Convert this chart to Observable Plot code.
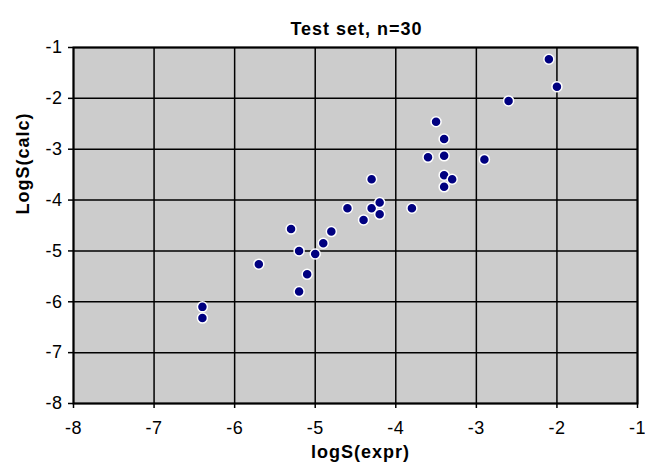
<!DOCTYPE html>
<html>
<head>
<meta charset="utf-8">
<script src="https://cdn.jsdelivr.net/npm/d3@7"></script>
<script src="https://cdn.jsdelivr.net/npm/@observablehq/plot@0.6"></script>
<style>
  html, body { margin: 0; padding: 0; background: #fff; }
  #chart svg { display: block; font-family: "Liberation Sans", Arial, sans-serif !important; }
  #chart svg g[aria-label="x-axis tick label"] text,
  #chart svg g[aria-label="y-axis tick label"] text { font-size: 18px !important; letter-spacing: 0.5px; }
  #chart svg g[aria-label="text"] text { font-size: 18px !important; letter-spacing: 1px; }
</style>
</head>
<body>
<div id="chart"></div>
<script>
const title = "Test set, n=30";
const xLabel = "logS(expr)";
const yLabel = "LogS(calc)";
const xTicks = [-8, -7, -6, -5, -4, -3, -2, -1];
const yTicks = [-8, -7, -6, -5, -4, -3, -2, -1];

const logSExpr = [-2.1, -2.0, -2.6, -3.5, -3.4, -3.6, -3.4, -2.9, -4.3, -3.4, -3.3, -3.4,
                  -4.6, -4.3, -4.2, -4.2, -4.4, -3.8, -5.3, -4.8, -4.9, -5.2, -5.0, -5.7,
                  -5.1, -5.2, -6.4, -6.4];
const logSCalc = [-1.23, -1.77, -2.05, -2.46, -2.80, -3.16, -3.13, -3.20, -3.59, -3.51, -3.59, -3.74,
                  -4.16, -4.16, -4.05, -4.28, -4.39, -4.16, -4.57, -4.62, -4.85, -5.00, -5.06, -5.26,
                  -5.46, -5.80, -6.10, -6.32];

const data = logSExpr.map((x, i) => ({x, y: logSCalc[i]}));

const W = 645, H = 468;
const mL = 73, mR = 8, mT = 47, mB = 65;
const fmt = d => d < 0 ? "-" + Math.abs(d) : String(d);

const plot = Plot.plot({
  width: W,
  height: H,
  marginLeft: mL,
  marginRight: mR,
  marginTop: mT,
  marginBottom: mB,
  style: {fontFamily: "'Liberation Sans', Arial, sans-serif", fontSize: "18px", color: "#000", background: "#fff"},
  x: {domain: [-8, -1]},
  y: {domain: [-8, -1]},
  marks: [
    Plot.frame({fill: "#cccccc"}),
    Plot.gridX(xTicks, {stroke: "#000", strokeOpacity: 1, strokeWidth: 1.5}),
    Plot.gridY(yTicks, {stroke: "#000", strokeOpacity: 1, strokeWidth: 1.5}),
    Plot.frame({stroke: "#000", strokeWidth: 2}),
    Plot.axisX(xTicks, {tickSize: 5, tickPadding: 13, fontSize: 18, tickFormat: fmt, label: null, strokeWidth: 1.5}),
    Plot.axisY(yTicks, {tickSize: 5, tickPadding: 6, fontSize: 18, tickFormat: fmt, label: null, strokeWidth: 1.5}),
    Plot.dot(data, {x: "x", y: "y", r: 5, fill: "#000080", stroke: "#fff", strokeWidth: 1.5}),
    Plot.text([title], {frameAnchor: "top", dy: -25.5, dx: 1, fontSize: 18, fontWeight: "bold", text: d => d}),
    Plot.text([xLabel], {frameAnchor: "bottom", dy: 54, dx: 5, fontSize: 18, fontWeight: "bold", text: d => d}),
    Plot.text([yLabel], {frameAnchor: "left", dx: -50, dy: -11, rotate: -90, fontSize: 18, fontWeight: "bold", text: d => d})
  ]
});
document.getElementById("chart").appendChild(plot);
</script>
</body>
</html>
